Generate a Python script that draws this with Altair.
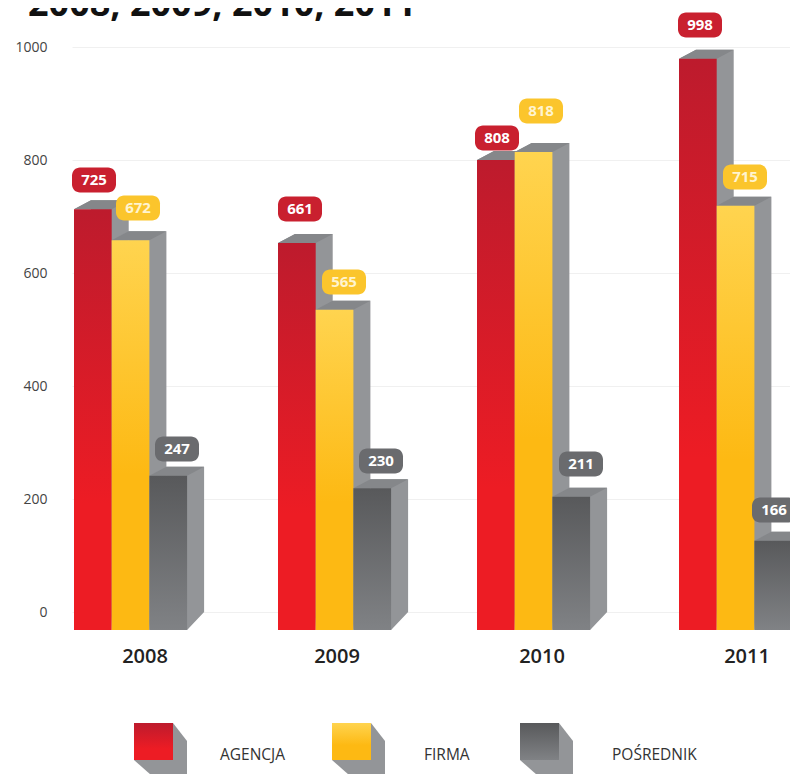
import altair as alt
import pandas as pd

years = ["2008", "2009", "2010", "2011"]
series = ["AGENCJA", "FIRMA", "POŚREDNIK"]
labels = {"AGENCJA": [725, 661, 808, 998], "FIRMA": [672, 565, 818, 715], "POŚREDNIK": [247, 230, 211, 166]}
# bar heights as read against the printed axis
tops = {"AGENCJA": [713, 653, 800, 979], "FIRMA": [658, 535, 814, 719], "POŚREDNIK": [241, 219, 204, 126]}
base_value = -32
group_left = [74, 278, 477, 679]
year_x = [145, 337, 542, 747]
label_x = {"AGENCJA": [94, 300, 497, 700], "FIRMA": [138, 344, 541, 745], "POŚREDNIK": [177, 381, 581, 774]}
label_y = {"AGENCJA": [180, 209, 138, 25], "FIRMA": [208, 282, 111, 177], "POŚREDNIK": [449, 461, 464, 510]}
legend_x = {"AGENCJA": 134, "FIRMA": 332, "POŚREDNIK": 520}
legend_text_x = {"AGENCJA": 220, "FIRMA": 424, "POŚREDNIK": 612}
tick_values = [0, 200, 400, 600, 800, 1000]

PX = 0.565
def u(py):
    return (612 - py) / PX

BAR_W = 37.7
FRONT = {
    "AGENCJA": [("#bd1b2d", 0), ("#ed1c24", 0.7), ("#ed1c24", 1)],
    "FIRMA": [("#ffd44f", 0), ("#fdb913", 0.6), ("#fdb913", 1)],
    "POŚREDNIK": [("#58595b", 0), ("#808285", 1)],
}
LABEL_COL = {"AGENCJA": "#c9202f", "FIRMA": "#fbc52c", "POŚREDNIK": "#6a6b6e"}
SIDE = "#939598"
TOPFACE = "#85878a"

X_SCALE = alt.Scale(domain=[72, 790], nice=False, zero=False)
Y_SCALE = alt.Scale(domain=[u(774), u(8)], nice=False, zero=False)
Y_AXIS = alt.Axis(values=tick_values, title=None, domain=False, ticks=False, format="d",
                  labelPadding=25, labelFontSize=14, labelFont="Open Sans", labelColor="#444444",
                  grid=True, gridColor="#f0f0f0", gridWidth=1)
def X(f="x"):
    return alt.X(f"{f}:Q", scale=X_SCALE, axis=None)
def Y(f="y"):
    return alt.Y(f"{f}:Q", scale=Y_SCALE, axis=Y_AXIS)
def grad(stops):
    return alt.Gradient(gradient="linear", x1=0, x2=0, y1=0, y2=1,
                        stops=[alt.GradientStop(color=c, offset=o) for c, o in stops])

layers = []
dx, dy_top, dy_bot = 17, 9 / PX, 18 / PX
for i, s in enumerate(series):
    side_rows, top_rows, front_rows = [], [], []
    for g, left in enumerate(group_left):
        L = left + i * BAR_W
        R = L + BAR_W
        T = tops[s][g]
        side_rows += [
            dict(bar=g, x=L, y=T, y2=T),
            dict(bar=g, x=L + dx, y=T + dy_top, y2=T),
            dict(bar=g, x=R, y=T + dy_top, y2=base_value),
            dict(bar=g, x=R + dx, y=T + dy_top, y2=base_value + dy_bot),
        ]
        top_rows += [
            dict(bar=g, x=L, y=T, y2=T),
            dict(bar=g, x=L + dx, y=T + dy_top, y2=T),
            dict(bar=g, x=R, y=T + dy_top, y2=T),
            dict(bar=g, x=R + dx, y=T + dy_top, y2=T + dy_top),
        ]
        front_rows.append(dict(x=L, x2=R, y=T, y2=base_value))
    layers.append(alt.Chart(pd.DataFrame(side_rows)).mark_area(color=SIDE, interpolate="linear").encode(
        x=X(), y=Y(), y2="y2:Q", detail="bar:N"))
    layers.append(alt.Chart(pd.DataFrame(top_rows)).mark_area(color=TOPFACE, interpolate="linear").encode(
        x=X(), y=Y(), y2="y2:Q", detail="bar:N"))
    layers.append(alt.Chart(pd.DataFrame(front_rows)).mark_rect(color=grad(FRONT[s])).encode(
        x=X(), x2="x2:Q", y=Y(), y2="y2:Q"))

# value badges
for s in series:
    rows = [dict(x=cx - 22, x2=cx + 22, y=u(cy - 12.5), y2=u(cy + 12.5), cx=cx, cy=u(cy), t=str(v))
            for cx, cy, v in zip(label_x[s], label_y[s], labels[s])]
    d = pd.DataFrame(rows)
    layers.append(alt.Chart(d).mark_bar(color=LABEL_COL[s], cornerRadius=8).encode(
        x=X(), x2="x2:Q", y=Y(), y2="y2:Q"))
    layers.append(alt.Chart(d).mark_text(color="#ffffff" if s != "FIRMA" else "#fff4cf", font="Open Sans",
                                         fontWeight="bold", fontSize=15).encode(
        x=X("cx"), y=Y("cy"), text="t:N"))

# year labels
layers.append(alt.Chart(pd.DataFrame({"x": year_x, "y": [u(657)] * 4, "t": years})).mark_text(
    font="Open Sans", fontWeight=600, fontSize=20, color="#222222").encode(x=X(), y=Y(), text="t:N"))

# legend
for s in series:
    L = legend_x[s]
    R = L + 39
    shadow = pd.DataFrame([
        dict(x=L, y=u(760), y2=u(760)),
        dict(x=L + 17, y=u(723), y2=u(775)),
        dict(x=R, y=u(723), y2=u(775)),
        dict(x=R + 14, y=u(741), y2=u(775)),
    ])
    layers.append(alt.Chart(shadow).mark_area(color=SIDE, interpolate="linear").encode(
        x=X(), y=Y(), y2="y2:Q"))
    layers.append(alt.Chart(pd.DataFrame([dict(x=L, x2=R, y=u(723), y2=u(760))])).mark_rect(
        color=grad(FRONT[s])).encode(x=X(), x2="x2:Q", y=Y(), y2="y2:Q"))
    layers.append(alt.Chart(pd.DataFrame([dict(x=legend_text_x[s], y=u(755), t=s)])).mark_text(
        font="Open Sans", fontSize=15.5, color="#333333", align="left").encode(x=X(), y=Y(), text="t:N"))

# title, clipped by the top edge as in the reference
layers.append(alt.Chart(pd.DataFrame([dict(x=28, y=u(16), t="2008, 2009, 2010, 2011")])).mark_text(
    font="Open Sans", fontWeight="bold", fontSize=36, color="#111111", align="left",
    baseline="alphabetic").encode(x=X(), y=Y(), text="t:N"))

chart = alt.layer(*layers).properties(
    width=718, height=766,
    padding={"left": 64, "top": 0, "right": 0, "bottom": 0},
    autosize=alt.AutoSizeParams(type="none"),
    background="white",
).configure_view(stroke=None)

chart.save("out.html", embed_options={"renderer": "svg", "actions": False})
